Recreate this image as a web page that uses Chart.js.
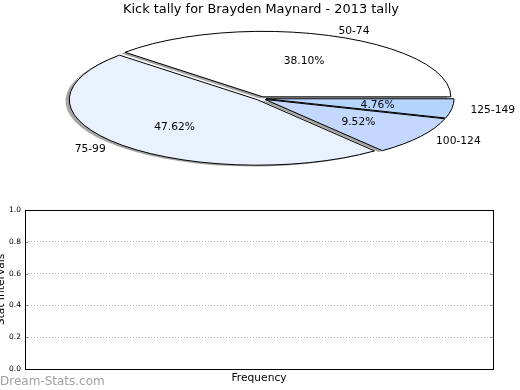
<!DOCTYPE html>
<html lang="en">
  <head>
    <meta charset="UTF-8" />
    <title>Kick tally for Brayden Maynard - 2013 tally</title>
    <script src="https://cdn.jsdelivr.net/npm/chart.js"></script>
    <style>
      body { margin: 0; background: #fff; }
      .wrap { position: relative; width: 520px; height: 390px; }
      .wrap canvas { position: absolute; left: 0; top: 0; }
    </style>
  </head>
  <body>
    <div class="wrap">
      <canvas id="axesChart" width="520" height="390"></canvas>
      <canvas id="pieChart" width="520" height="390"></canvas>
    </div>

    <script>
      // kick counts per range (21 kicks in total)
      const ranges      = ["50-74", "75-99", "100-124", "125-149"];
      const kicks       = [8, 10, 2, 1];
      const sliceColors = ["#ffffff", "#e9f0fe", "#c4d8fe", "#b4d3fe"];
      const yTicks      = [0, 0.2, 0.4, 0.6, 0.8, 1.0];

      const FONT = "'DejaVu Sans', sans-serif";
      const squash  = 65.5 / 188; // ellipse height / width
      const explode = 0.027;      // slice offset as a fraction of radius
      const shadowDx = -3.8, shadowDy = 1.3;

      // move ctx into the squashed + exploded frame of one slice
      function slideFrame(ctx, a, dx, dy) {
        const mid = (a.startAngle + a.endAngle) / 2;
        const off = a.outerRadius * explode;
        ctx.translate(a.x + dx, a.y + dy);
        ctx.scale(1, squash);
        ctx.translate(Math.cos(mid) * off, Math.sin(mid) * off);
      }

      function slicePath(ctx, a, dx, dy) {
        ctx.save();
        slideFrame(ctx, a, dx, dy);
        ctx.beginPath();
        ctx.moveTo(0, 0);
        ctx.arc(0, 0, a.outerRadius, a.startAngle, a.endAngle);
        ctx.closePath();
        ctx.restore();   // path is kept, stroke happens unscaled
      }

      const squashPie = {
        id: "squashPie",
        beforeDatasetDraw(chart, args) {
          const ctx = chart.ctx;
          const arcs = args.meta.data;
          ctx.save();
          ctx.fillStyle = "rgba(77,77,77,0.5)";
          arcs.forEach((a) => { slicePath(ctx, a, shadowDx, shadowDy); ctx.fill(); });
          ctx.restore();
          arcs.forEach((a) => {
            ctx.save();
            slideFrame(ctx, a, 0, 0);
            ctx.translate(-a.x, -a.y);
            a.draw(ctx);
            ctx.restore();
            ctx.save();
            slicePath(ctx, a, 0, 0);
            ctx.lineWidth = 1;
            ctx.strokeStyle = "#000";
            ctx.stroke();
            ctx.restore();
          });
          return false;
        },
        afterDraw(chart) {
          const ctx = chart.ctx;
          const meta = chart.getDatasetMeta(0);
          const data = chart.data.datasets[0].data;
          const total = data.reduce((s, v) => s + v, 0);
          ctx.save();
          ctx.font = "10.7px " + FONT;
          ctx.fillStyle = "#000";
          ctx.textBaseline = "middle";
          meta.data.forEach((a, i) => {
            const mid = (a.startAngle + a.endAngle) / 2;
            const off = a.outerRadius * explode;
            const cx = a.x + Math.cos(mid) * off;
            const cy = a.y + Math.sin(mid) * off * squash;
            const r = a.outerRadius;
            ctx.textAlign = "center";
            ctx.fillText((data[i] / total * 100).toFixed(2) + "%",
              cx + Math.cos(mid) * r * 0.6, cy + Math.sin(mid) * r * 0.6 * squash + 1);
            ctx.textAlign = Math.cos(mid) >= 0 ? "left" : "right";
            ctx.fillText(chart.data.labels[i],
              cx + Math.cos(mid) * r * 1.1, cy + Math.sin(mid) * r * 1.1 * squash + 1);
          });
          ctx.restore();
        }
      };

      // matplotlib pie goes counter-clockwise from 3 o'clock -> reverse and go clockwise
      new Chart(document.getElementById("pieChart"), {
        type: "pie",
        data: {
          labels: ranges.slice().reverse(),
          datasets: [{
            data: kicks.slice().reverse(),
            backgroundColor: sliceColors.slice().reverse(),
            borderWidth: 0,
            clip: false
          }]
        },
        options: {
          responsive: false,
          animation: false,
          events: [],
          rotation: 90,
          radius: 188,
          layout: { padding: { left: 2, right: 0, top: 0, bottom: 213.5 } },
          plugins: {
            legend: { display: false },
            tooltip: { enabled: false },
            title: {
              display: true,
              text: "Kick tally for Brayden Maynard - 2013 tally",
              color: "#000",
              font: { family: FONT, size: 12.9, weight: "normal" },
              padding: { top: 2, bottom: 3 }
            }
          }
        },
        plugins: [squashPie]
      });

      const frame = {
        id: "frame",
        afterDraw(chart) {
          const { ctx, chartArea: a, scales: { y } } = chart;
          ctx.save();
          ctx.strokeStyle = "#999";
          ctx.lineWidth = 1;
          y.ticks.forEach((t) => {
            const py = Math.round(y.getPixelForValue(t.value)) + 0.5;
            ctx.beginPath();
            ctx.moveTo(a.left, py); ctx.lineTo(a.left + 3, py);
            ctx.moveTo(a.right - 3, py); ctx.lineTo(a.right, py);
            ctx.stroke();
          });
          ctx.strokeStyle = "#000";
          ctx.strokeRect(a.left + 0.5, a.top + 0.5, a.right - a.left, a.bottom - a.top);
          ctx.font = "12px " + FONT;
          ctx.fillStyle = "#a0a0a0";
          ctx.textAlign = "left";
          ctx.textBaseline = "alphabetic";
          ctx.fillText("Dream-Stats.com", 0, 385);
          ctx.restore();
        }
      };

      new Chart(document.getElementById("axesChart"), {
        type: "scatter",
        data: { datasets: [{ data: [] }] },
        options: {
          responsive: false,
          animation: false,
          events: [],
          layout: { padding: { left: 0, right: 27, top: 210, bottom: 0 } },
          plugins: { legend: { display: false }, tooltip: { enabled: false } },
          scales: {
            x: {
              min: 0, max: 1,
              ticks: { display: false },
              grid: { display: false },
              border: { display: false },
              title: {
                display: true,
                text: "Frequency",
                color: "#000",
                font: { family: FONT, size: 10.7 },
                padding: { top: 0, bottom: 5 }
              },
              afterFit(s) { s.height = 21; }
            },
            y: {
              min: 0, max: 1,
              afterBuildTicks(s) { s.ticks = yTicks.map((v) => ({ value: v })); },
              ticks: {
                color: "#000",
                padding: 4,
                font: { family: FONT, size: 7.5 },
                callback: (v) => Number(v).toFixed(1)
              },
              grid: { color: "#aaaaaa", drawTicks: false },
              border: { display: false, dash: [1, 2] },
              title: {
                display: true,
                text: "Stat Intervals",
                color: "#000",
                font: { family: FONT, size: 10.7 },
                padding: { top: -5, bottom: 0 }
              },
              afterFit(s) { s.width = 25; }
            }
          }
        },
        plugins: [frame]
      });
    </script>
  </body>
</html>
